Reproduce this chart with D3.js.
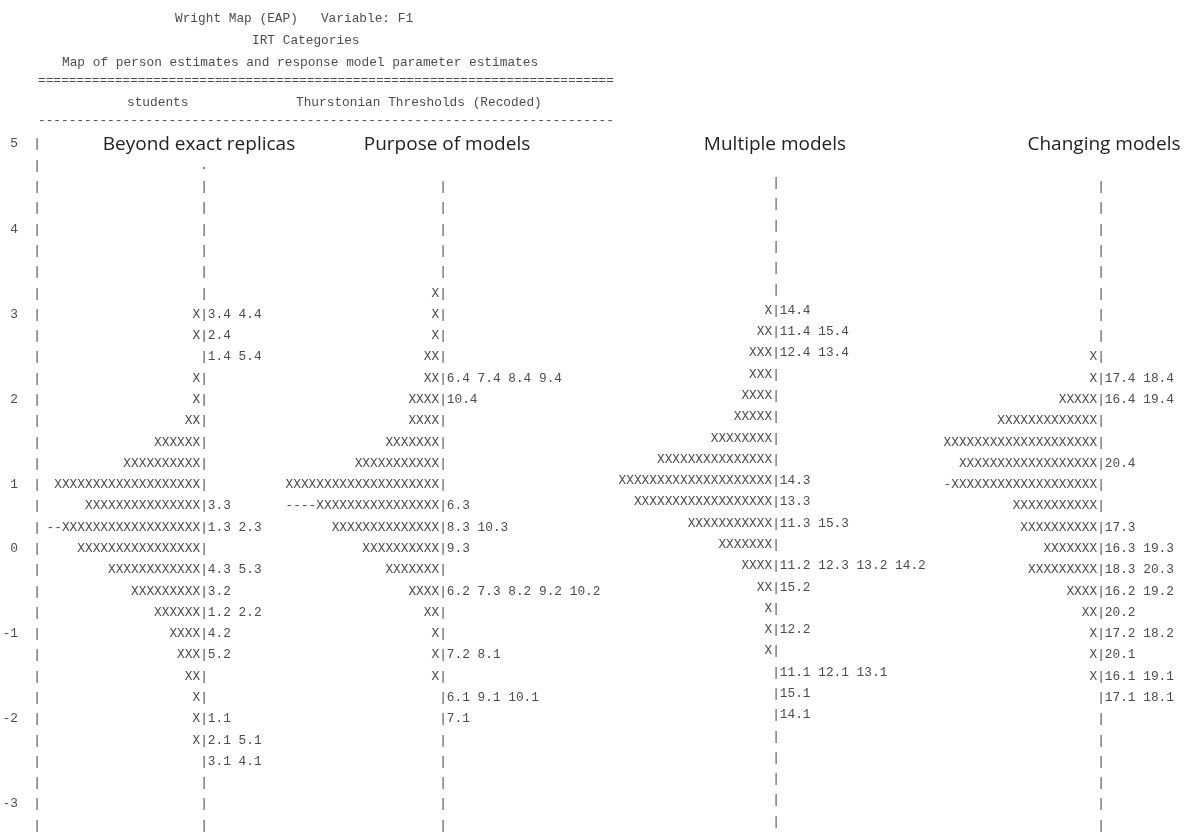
<!DOCTYPE html>
<html lang="en">
<head>
    <meta charset="UTF-8">
    <title>Wright Map (EAP)</title>
    <style>
        body { margin: 0; background: #fff; }
        #container { filter: grayscale(100%); }
        .mono { font-family: "Liberation Mono", "DejaVu Sans Mono", monospace; font-size: 12.8px; fill: #4d4d4d; }
        .title { font-family: "Open Sans", sans-serif; font-size: 19px; fill: #222; }
    </style>
</head>
<body>
<svg id="container" width="1188" height="838"></svg>

<script src="https://cdn.jsdelivr.net/npm/d3@7"></script>
<script>
    // header text of the ConQuest output
    let headerLines = [
        "Wright Map (EAP)   Variable: F1",
        "IRT Categories",
        "Map of person estimates and response model parameter estimates"
    ]
    let columnHeads = ["students", "Thurstonian Thresholds (Recoded)"]

    // logit axis
    let logitTicks = ["5", "4", "3", "2", "1", "0", "-1", "-2", "-3"]
    let logitTickRows = [0, 4, 8, 12, 16, 19, 23, 27, 31]
    let rowCount = 33

    let panelTitles = ["Beyond exact replicas", "Purpose of models", "Multiple models", "Changing models"]

    // each line: persons (X) | thresholds, starting at the given row
    let beyondStart = 1
    let beyondRows = [
        ".", "|", "|", "|", "|", "|", "|",
        "X|3.4 4.4", "X|2.4", "|1.4 5.4", "X|", "X|", "XX|", "XXXXXX|",
        "XXXXXXXXXX|", "XXXXXXXXXXXXXXXXXXX|", "XXXXXXXXXXXXXXX|3.3",
        "--XXXXXXXXXXXXXXXXXX|1.3 2.3", "XXXXXXXXXXXXXXXX|", "XXXXXXXXXXXX|4.3 5.3",
        "XXXXXXXXX|3.2", "XXXXXX|1.2 2.2", "XXXX|4.2", "XXX|5.2", "XX|", "X|",
        "X|1.1", "X|2.1 5.1", "|3.1 4.1", "|", "|", "|"
    ]

    let purposeStart = 2
    let purposeRows = [
        "|", "|", "|", "|", "|",
        "X|", "X|", "X|", "XX|", "XX|6.4 7.4 8.4 9.4", "XXXX|10.4", "XXXX|",
        "XXXXXXX|", "XXXXXXXXXXX|", "XXXXXXXXXXXXXXXXXXXX|", "----XXXXXXXXXXXXXXXX|6.3",
        "XXXXXXXXXXXXXX|8.3 10.3", "XXXXXXXXXX|9.3", "XXXXXXX|", "XXXX|6.2 7.3 8.2 9.2 10.2",
        "XX|", "X|", "X|7.2 8.1", "X|", "|6.1 9.1 10.1", "|7.1", "|", "|", "|", "|", "|"
    ]

    let multipleStart = 2
    let multipleRows = [
        "|", "|", "|", "|", "|", "|",
        "X|14.4", "XX|11.4 15.4", "XXX|12.4 13.4", "XXX|", "XXXX|", "XXXXX|", "XXXXXXXX|",
        "XXXXXXXXXXXXXXX|", "XXXXXXXXXXXXXXXXXXXX|14.3", "XXXXXXXXXXXXXXXXXX|13.3",
        "XXXXXXXXXXX|11.3 15.3", "XXXXXXX|", "XXXX|11.2 12.3 13.2 14.2", "XX|15.2", "X|",
        "X|12.2", "X|", "|11.1 12.1 13.1", "|15.1", "|14.1", "|", "|", "|", "|", "|"
    ]

    let changingStart = 2
    let changingRows = [
        "|", "|", "|", "|", "|", "|", "|", "|",
        "X|", "X|17.4 18.4", "XXXXX|16.4 19.4", "XXXXXXXXXXXXX|", "XXXXXXXXXXXXXXXXXXXX|",
        "XXXXXXXXXXXXXXXXXX|20.4", "-XXXXXXXXXXXXXXXXXXX|", "XXXXXXXXXXX|", "XXXXXXXXXX|17.3",
        "XXXXXXX|16.3 19.3", "XXXXXXXXX|18.3 20.3", "XXXX|16.2 19.2", "XX|20.2", "X|17.2 18.2",
        "X|20.1", "X|16.1 19.1", "|17.1 18.1", "|", "|", "|", "|", "|", "|"
    ]

    let panels = [
        { title: panelTitles[0], start: beyondStart, rows: beyondRows, dy: 0 },
        { title: panelTitles[1], start: purposeStart, rows: purposeRows, dy: 0 },
        { title: panelTitles[2], start: multipleStart, rows: multipleRows, dy: -4 },
        { title: panelTitles[3], start: changingStart, rows: changingRows, dy: 0 }
    ]

    let svg = d3.select("#container")
    let charW = 7.68

    let yScale = d3.scaleLinear().domain([0, 31]).range([143, 803])
    let xBar = d3.scaleOrdinal().domain(panelTitles).range([204, 443, 776, 1101])
    let xTitle = d3.scaleOrdinal().domain(panelTitles).range([199, 447, 775, 1104])

    // header block
    let header = svg.append("g")
    header.append("text").attr("class", "mono").attr("x", 175).attr("y", 22).style("white-space", "pre").text(headerLines[0])
    header.append("text").attr("class", "mono").attr("x", 252).attr("y", 44).text(headerLines[1])
    header.append("text").attr("class", "mono").attr("x", 62).attr("y", 66).text(headerLines[2])
    header.append("text").attr("class", "mono").attr("x", 38).attr("y", 84).text("=".repeat(75))
    header.append("text").attr("class", "mono").attr("x", 127).attr("y", 106).text(columnHeads[0])
    header.append("text").attr("class", "mono").attr("x", 296).attr("y", 106).text(columnHeads[1])
    header.append("text").attr("class", "mono").attr("x", 38).attr("y", 124).text("-".repeat(75))

    // logit axis
    let axis = svg.append("g")
    axis.selectAll("text.bar")
        .data(d3.range(rowCount))
        .join("text")
        .attr("class", "mono bar")
        .attr("x", 37)
        .attr("y", d => yScale(d))
        .attr("dy", "0.35em")
        .attr("text-anchor", "middle")
        .text("|")
    axis.selectAll("text.tick")
        .data(logitTicks)
        .join("text")
        .attr("class", "mono tick")
        .attr("x", 18)
        .attr("y", (d, i) => yScale(logitTickRows[i]))
        .attr("dy", "0.35em")
        .attr("text-anchor", "end")
        .text(d => d)

    // panels
    panels.forEach(p => {
        let g = svg.append("g").attr("transform", `translate(0,${p.dy})`)
        let bx = xBar(p.title)

        svg.append("text")
            .attr("class", "title")
            .attr("x", xTitle(p.title))
            .attr("y", yScale(0))
            .attr("dy", "0.35em")
            .attr("text-anchor", "middle")
            .text(p.title)

        let lines = p.rows.map((s, i) => {
            let k = s.indexOf("|")
            return { row: p.start + i, bar: k < 0 ? s : "|", left: k < 0 ? "" : s.slice(0, k), right: k < 0 ? "" : s.slice(k + 1) }
        })

        let line = g.selectAll("g.line")
            .data(lines)
            .join("g")
            .attr("class", "line")
            .attr("transform", d => `translate(0,${yScale(d.row)})`)

        line.append("text")
            .attr("class", "mono")
            .attr("x", bx)
            .attr("dy", "0.35em")
            .attr("text-anchor", "middle")
            .text(d => d.bar)

        line.append("text")
            .attr("class", "mono")
            .attr("x", bx - charW / 2)
            .attr("dy", "0.35em")
            .attr("text-anchor", "end")
            .text(d => d.left)

        line.append("text")
            .attr("class", "mono")
            .attr("x", bx + charW / 2)
            .attr("dy", "0.35em")
            .attr("text-anchor", "start")
            .style("white-space", "pre")
            .text(d => d.right)
    })
</script>
</body>
</html>
